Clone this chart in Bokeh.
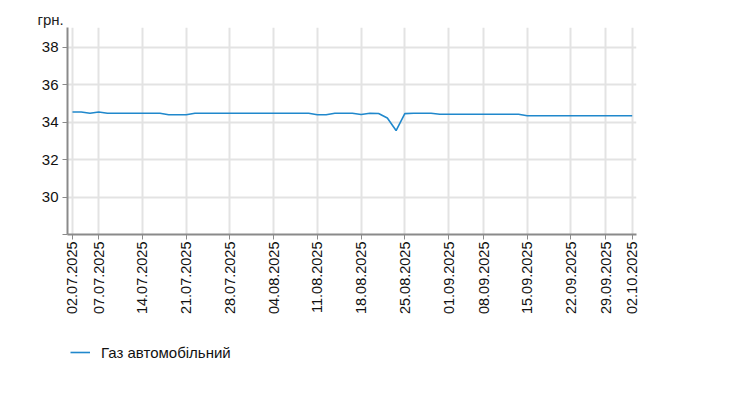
import math
import pandas as pd
from bokeh.plotting import figure
from bokeh.layouts import column
from bokeh.models import FixedTicker, Legend, LegendItem, Range1d
from bokeh.embed import file_html
from bokeh.resources import INLINE

# --- data -------------------------------------------------------------
missing_days = ["2025-09-05", "2025-09-26"]
days = [d for d in pd.bdate_range("2025-07-02", "2025-10-02")
        if d.strftime("%Y-%m-%d") not in missing_days]
date_labels = [d.strftime("%d.%m.%Y") for d in days]

prices = [
    34.54, 34.54, 34.47, 34.54, 34.47, 34.47, 34.47, 34.47, 34.47, 34.47,  # 0-9
    34.47, 34.39, 34.39, 34.39, 34.47, 34.47, 34.47, 34.47, 34.47, 34.47,  # 10-19
    34.47, 34.47, 34.47, 34.47, 34.47, 34.47, 34.47, 34.47, 34.39, 34.39,  # 20-29
    34.47, 34.47, 34.47, 34.41, 34.47, 34.46, 34.22, 33.55, 34.45, 34.47,  # 30-39
    34.47, 34.47, 34.42, 34.42, 34.42, 34.42, 34.42, 34.42, 34.42, 34.42,  # 40-49
    34.42, 34.42, 34.34, 34.34, 34.34, 34.34, 34.34, 34.34, 34.34, 34.34,  # 50-59
    34.34, 34.34, 34.34, 34.34, 34.34,                                     # 60-64
]
tick_dates = ["02.07.2025", "07.07.2025", "14.07.2025", "21.07.2025", "28.07.2025",
              "04.08.2025", "11.08.2025", "18.08.2025", "25.08.2025", "01.09.2025",
              "08.09.2025", "15.09.2025", "22.09.2025", "29.09.2025", "02.10.2025"]
y_ticks = [28, 30, 32, 34, 36, 38]
series_name = "Газ автомобільний"
unit_label = "грн."

x_idx = list(range(len(prices)))
x_tick_idx = [date_labels.index(t) for t in tick_dates]

FONT = "Liberation Sans"
GRID = "#e3e3e3"
AXIS = "#8a8a8a"
LINE = "#2088cc"

p = figure(width=723, height=330, output_backend="svg", toolbar_location=None,
           x_range=Range1d(-0.57, 64.49), y_range=Range1d(28, 39.05),
           min_border_left=67, min_border_right=87, min_border_top=27,
           min_border_bottom=96, outline_line_color=None,
           background_fill_color="white", border_fill_color="white")

p.title.text = unit_label
p.title.align = "left"
p.title.offset = -30
p.title.standoff = 0
p.title.text_font = FONT
p.title.text_font_size = "15px"
p.title.text_font_style = "normal"
p.title.text_color = "#222222"

# axes
xa = p.xaxis[0]
xa.ticker = FixedTicker(ticks=x_tick_idx)
xa.major_label_overrides = {i: t for i, t in zip(x_tick_idx, tick_dates)}
xa.major_label_orientation = math.pi / 2
xa.major_label_text_font = FONT
xa.major_label_text_font_size = "14.5px"
xa.major_label_text_color = "#111111"
xa.major_label_standoff = 2
xa.axis_line_color = AXIS
xa.axis_line_width = 2
xa.major_tick_line_color = AXIS
xa.major_tick_out = 5
xa.major_tick_in = 0
xa.minor_tick_line_color = None

ya = p.yaxis[0]
ya.ticker = FixedTicker(ticks=y_ticks)
ya.major_label_overrides = {28: ""}
ya.major_label_text_font = FONT
ya.major_label_text_font_size = "15px"
ya.major_label_text_color = "#111111"
ya.major_label_standoff = 4
ya.axis_line_color = AXIS
ya.axis_line_width = 2
ya.major_tick_line_color = AXIS
ya.major_tick_out = 5
ya.major_tick_in = 0
ya.minor_tick_line_color = None

p.xgrid.grid_line_color = GRID
p.xgrid.grid_line_width = 2
p.ygrid.grid_line_color = GRID
p.ygrid.grid_line_width = 2

p.line(x_idx, prices, line_color=LINE, line_width=1.6)

# legend strip below the chart (its frame is aligned with the chart's frame)
lg = figure(width=723, height=66, output_backend="svg", toolbar_location=None,
            x_range=Range1d(0, 1), y_range=Range1d(0, 1),
            min_border=0, outline_line_color=None,
            background_fill_color="white", border_fill_color="white")
lg.axis.visible = False
lg.grid.visible = False
# same series, drawn outside this strip's visible ranges: only its key shows
key = lg.line(x_idx, prices, line_color=LINE, line_width=1.6)
legend = Legend(items=[LegendItem(label=series_name, renderers=[key])],
                location=(3, 34), orientation="horizontal",
                border_line_color=None, background_fill_alpha=0,
                padding=0, margin=0, spacing=0, label_standoff=11,
                glyph_width=20, glyph_height=20, label_height=20,
                label_text_font=FONT, label_text_font_size="15px",
                label_text_color="#111111")
lg.add_layout(legend, "center")

layout = column(p, lg, spacing=0)
open("out.html", "w").write(file_html(layout, INLINE))
